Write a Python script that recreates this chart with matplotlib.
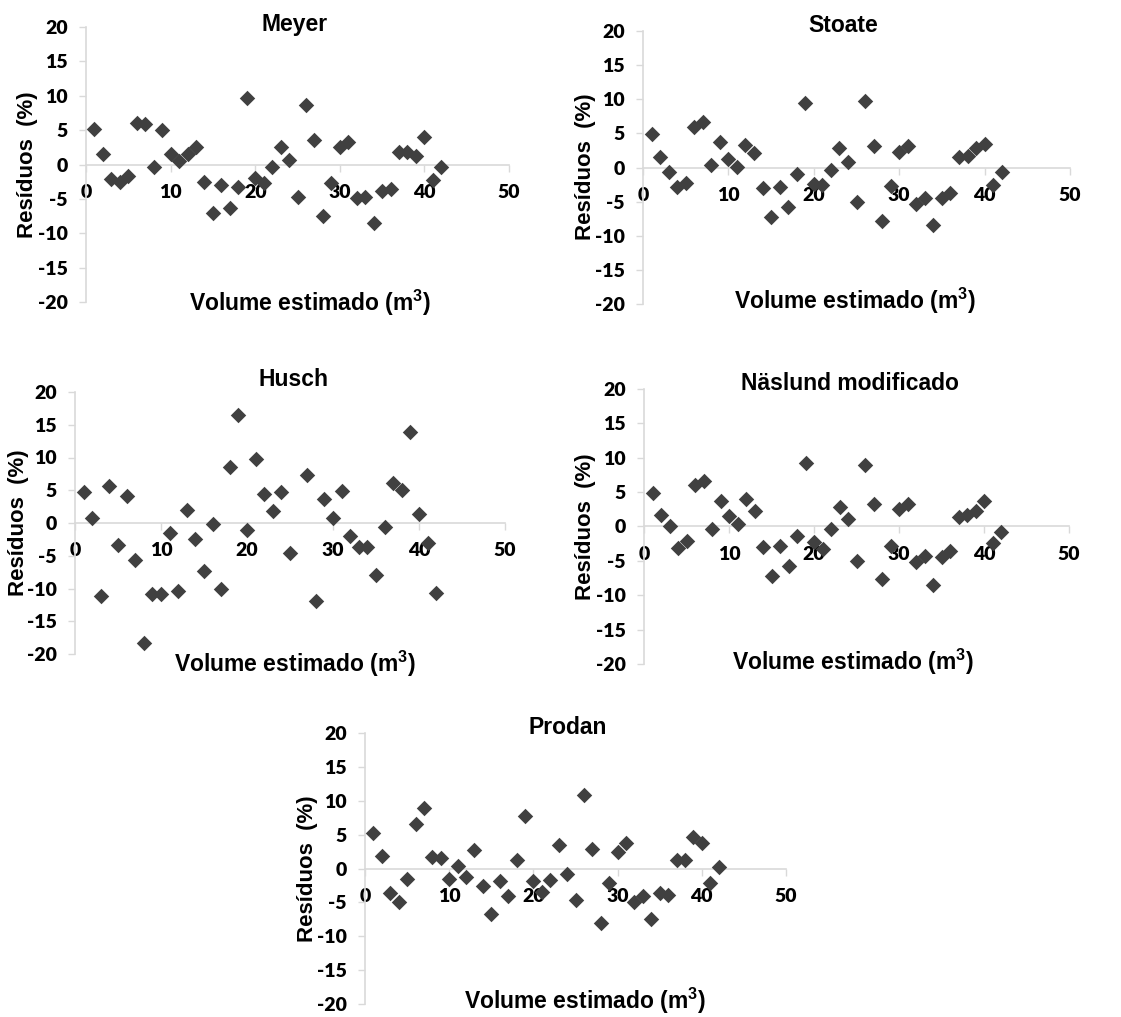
import matplotlib

matplotlib.use("Agg")

import matplotlib.pyplot as plt

W, H = 1121, 1017

volume = list(range(1, 43))

meyer = [5.2, 1.6, -2.1, -2.6, -1.7, 6.0, 5.9, -0.3, 5.0, 1.6, 0.5, 1.5, 2.5, -2.6,
         -7.0, -3.0, -6.3, -3.3, 9.7, -2.0, -2.7, -0.4, 2.5, 0.6, -4.7, 8.6, 3.5,
         -7.5, -2.7, 2.6, 3.3, -4.9, -4.7, -8.5, -3.9, -3.5, 1.8, 1.8, 1.3, 4.0,
         -2.3, -0.4]
stoate = [4.9, 1.6, -0.7, -2.9, -2.3, 5.9, 6.7, 0.3, 3.7, 1.2, 0.1, 3.3, 2.1, -3.0,
          -7.3, -2.8, -5.8, -0.9, 9.5, -2.4, -2.6, -0.4, 2.9, 0.8, -5.1, 9.7, 3.2,
          -7.9, -2.7, 2.3, 3.2, -5.3, -4.4, -8.4, -4.5, -3.7, 1.5, 1.7, 2.9, 3.5,
          -2.6, -0.7]
# no point visible at volume 26 for Husch
husch_volume = [v for v in volume if v != 26]
husch = [4.8, 0.8, -11.1, 5.7, -3.4, 4.1, -5.6, -18.3, -10.8, -10.8, -1.5, -10.4,
         2.0, -2.5, -7.3, -0.1, -10.1, 8.5, 16.5, -1.0, 9.8, 4.4, 1.9, 4.7, -4.6,
         7.4, -11.9, 3.6, 0.7, 4.9, -2.0, -3.7, -3.6, -7.9, -0.6, 6.1, 5.0, 13.9,
         1.3, -3.1, -10.7]
naslund = [4.9, 1.7, 0.0, -3.1, -2.1, 6.0, 6.6, -0.3, 3.7, 1.5, 0.3, 4.0, 2.3, -3.0,
           -7.2, -2.8, -5.7, -1.4, 9.3, -2.3, -3.3, -0.4, 2.9, 1.1, -5.0, 9.0, 3.2,
           -7.6, -2.8, 2.6, 3.3, -5.2, -4.3, -8.5, -4.4, -3.6, 1.4, 1.6, 2.2, 3.7,
           -2.4, -0.8]
prodan = [5.3, 1.9, -3.6, -4.9, -1.6, 6.6, 8.9, 1.7, 1.6, -1.5, 0.4, -1.3, 2.7, -2.6,
          -6.7, -1.9, -4.0, 1.3, 7.7, -1.9, -3.4, -1.7, 3.5, -0.8, -4.6, 10.9, 2.9,
          -8.0, -2.2, 2.5, 3.7, -5.0, -4.1, -7.5, -3.6, -3.9, 1.3, 1.2, 4.6, 3.7,
          -2.2, 0.2]

x_ticks = [0, 10, 20, 30, 40, 50]
y_ticks = [-20, -15, -10, -5, 0, 5, 10, 15, 20]

AXIS_GREY = "#d9d9d9"
MARKER = "#404040"
LABEL_FONT = "Liberation Sans"
TICK_FONT = "Lato"

# (title, x, y, axes box left/right/top/bottom px, title xy, xlabel xy, ylabel xy)
panels = [
    ("Meyer", volume, meyer, (86, 509, 27, 302), (295, 24), (310, 303), (28, 165)),
    ("Stoate", volume, stoate, (643, 1070, 31, 304), (843, 25), (855, 301), (585, 167)),
    ("Husch", husch_volume, husch, (75, 505, 392, 654), (293, 380), (295, 664), (19, 523)),
    ("Näslund modificado", volume, naslund, (644, 1069, 389, 664), (850, 383), (853, 662), (586, 527)),
    ("Prodan", volume, prodan, (365, 786, 733, 1004), (568, 727), (585, 1001), (308, 869)),
]


def _fx(px):
    return px / W


def _fy(py):
    return 1 - py / H


def _panel(fig, title, xs, ys, box, title_xy, xlabel_xy, ylabel_xy):
    left, right, top, bottom = box
    ax = fig.add_axes([_fx(left), _fy(bottom), (right - left) / W, (bottom - top) / H])
    ax.scatter(xs, ys, marker="D", s=62, color=MARKER, linewidths=0, zorder=3)
    ax.set_xlim(0, 50)
    ax.set_ylim(-20, 20)
    ax.set_xticks(x_ticks)
    ax.set_yticks(y_ticks)
    for side in ["top", "right"]:
        ax.spines[side].set_visible(False)
    ax.spines["bottom"].set_position(("data", 0))
    for side in ["bottom", "left"]:
        ax.spines[side].set_color(AXIS_GREY)
        ax.spines[side].set_linewidth(1.2)
    ax.tick_params(axis="both", direction="out", length=5, width=1.0, color=AXIS_GREY,
                   labelsize=14)
    ax.tick_params(axis="x", pad=9)
    ax.tick_params(axis="y", pad=8)
    for lab in ax.get_xticklabels() + ax.get_yticklabels():
        lab.set_fontfamily(TICK_FONT)
        lab.set_fontweight("heavy")
    ax.set_facecolor("none")

    fig.text(_fx(title_xy[0]), _fy(title_xy[1]), title, ha="center", va="center",
             fontsize=16.5, fontweight="bold", family=LABEL_FONT)
    fig.text(_fx(xlabel_xy[0]), _fy(xlabel_xy[1]), "Volume estimado (m$\\mathbf{^3}$)",
             ha="center", va="center", fontsize=16.5, fontweight="bold", family=LABEL_FONT)
    fig.text(_fx(ylabel_xy[0]), _fy(ylabel_xy[1]), "Resíduos  (%)", ha="center",
             va="center", rotation=90, fontsize=16, fontweight="bold", family=LABEL_FONT)


def render():
    plt.rcParams["axes.unicode_minus"] = False
    plt.rcParams["mathtext.fontset"] = "custom"
    plt.rcParams["mathtext.bf"] = "Liberation Sans:bold"
    plt.rcParams["mathtext.rm"] = "Liberation Sans"
    fig = plt.figure(figsize=(W / 100, H / 100), dpi=100)
    for title, xs, ys, box, t_xy, xl_xy, yl_xy in panels:
        _panel(fig, title, xs, ys, box, t_xy, xl_xy, yl_xy)
    fig.savefig("out.png", dpi=100, facecolor="white")
    plt.close(fig)


if __name__ == "__main__":
    render()
